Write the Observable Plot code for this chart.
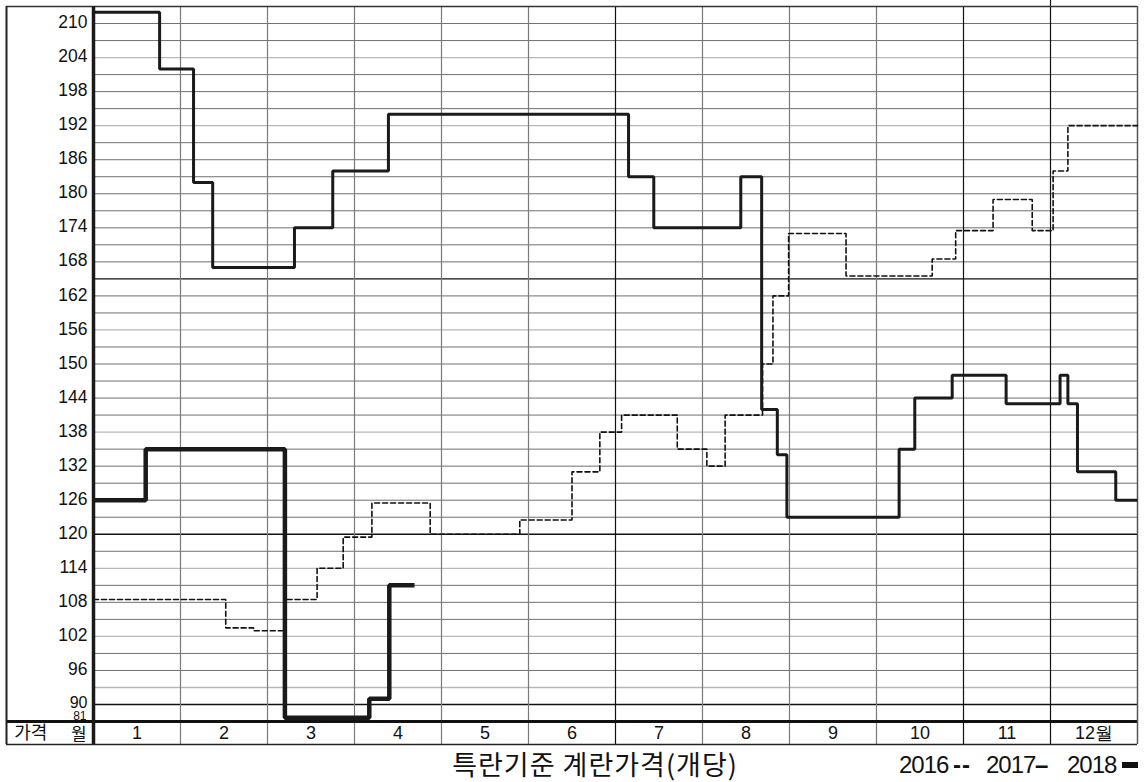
<!DOCTYPE html>
<html><head><meta charset="utf-8">
<script src="https://cdn.jsdelivr.net/npm/d3@7"></script>
<script src="https://cdn.jsdelivr.net/npm/@observablehq/plot@0.6"></script>
<style>
body{margin:0;background:#fff;}
#wrap{position:relative;width:1144px;height:782px;overflow:hidden;}
#foot{position:relative;height:34px;}
#title{position:absolute;left:595px;top:0px;transform:translateX(-50%);font-family:"Noto Sans CJK KR","Noto Sans";font-size:27px;letter-spacing:1px;white-space:nowrap;color:#111;line-height:32px}
.lg{position:absolute;top:3px;font-family:"Liberation Sans",sans-serif;font-size:24px;letter-spacing:-1px;white-space:nowrap;color:#111;line-height:28px}
.bar{position:absolute;left:1122px;top:14px;width:16px;height:6px;background:#111}
</style></head><body>
<div id="wrap"><div id="chart"></div><div id="foot"><div id="title">특란기준 계란가격(개당)</div>
<span class="lg" style="left:899px">2016</span><span class="lg" style="left:953px;letter-spacing:1px;font-weight:bold">--</span>
<span class="lg" style="left:986px">2017</span><span class="lg" style="left:1035px;letter-spacing:0;font-weight:bold">–</span>
<span class="lg" style="left:1067px">2018</span><span class="bar"></span></div></div>
<script>
// month column labels
const months = ["1","2","3","4","5","6","7","8","9","10","11","12월"];
// y tick labels
const yTicks = [96,102,108,114,120,126,132,138,144,150,156,162,168,174,180,186,192,198,204,210];
const lowTick = 90;
const bottomLabel = "81";
// series (x = position in months from start of January, y = price)
const s2016x = [0,1.52,1.84,2.2,2.57,2.87,3.2,3.87,4.9,5.5,5.82,6.07,6.71,7.05,7.26,7.69,7.81,7.99,8.65,9.64,9.91,10.34,10.79,11.03,11.2,12];
const s2016y = [108.5,103.5,103,108.5,114,119.5,125.5,120,122.5,131,138,141,135,132,141,150,162,173,165.5,168.5,173.5,179,173.5,184,192,192];
const s2017x = [0,0.76,1.15,1.37,2.31,2.75,3.39,6.15,6.44,7.44,7.68,7.86,7.97,9.26,9.44,9.87,10.49,11.11,11.2,11.31,11.75,12];
const s2017y = [212,202,182,167,174,184,194,183,174,183,142,134,123,135,144,148,143,148,143,131,126,126];
const s2018x = [0,0.6,2.2,3.17,3.4,3.69];
const s2018y = [126,135,83,91,111,111];

const toRows = (xs, ys) => xs.map((x, i) => ({x, y: ys[i]}));
const d2016 = toRows(s2016x, s2016y);
const d2017 = toRows(s2017x, s2017y);
const d2018 = toRows(s2018x, s2018y);

const gridLevels = d3.range(93, 211, 3);
const lightLevels = [204,192,156,138,114,102,93];
const darkLevels = [165,120,90];
const monthEdges = d3.range(1, 12);
const darkEdges = [6,10,11];

const plot = Plot.plot({
  width: 1144,
  height: 748,
  marginLeft: 6,
  marginRight: 7,
  marginTop: 6,
  marginBottom: 4,
  x: {type: "linear", domain: [-1, 12], axis: null},
  y: {type: "linear", domain: [69, 81, 90, 213], range: [744, 721, 704, 6], axis: null},
  style: {fontFamily: "'Liberation Sans', Arial, sans-serif", background: "#fff"},
  marks: [
    // horizontal grid
    Plot.ruleY(gridLevels.filter(d => !lightLevels.includes(d) && !darkLevels.includes(d)), {x1: 0, x2: 12, stroke: "#707070", strokeWidth: 1}),
    Plot.ruleY(lightLevels, {x1: 0, x2: 12, stroke: "#b8b8b8", strokeWidth: 1.3}),
    Plot.ruleY(darkLevels, {x1: 0, x2: 12, stroke: "#111", strokeWidth: 1.3}),
    // vertical month edges
    Plot.ruleX(monthEdges.filter(d => !darkEdges.includes(d)), {y1: 69, y2: 213, stroke: "#7a7a7a", strokeWidth: 1.2}),
    Plot.ruleX(darkEdges, {y1: 69, y2: 213, stroke: "#111", strokeWidth: 1.2}),
    Plot.ruleX([11], {y1: 213, y2: 214.2, stroke: "#111", strokeWidth: 1.2}),
    // frame
    Plot.ruleY([213], {x1: -1, x2: 12, stroke: "#333", strokeWidth: 1.5}),
    Plot.ruleY([69], {x1: -1, x2: 12, stroke: "#222", strokeWidth: 1.5}),
    Plot.ruleY([81], {x1: -1, x2: 12, stroke: "#111", strokeWidth: 3}),
    Plot.ruleX([-1], {y1: 69, y2: 213, stroke: "#222", strokeWidth: 2}),
    Plot.ruleX([12], {y1: 69, y2: 213, stroke: "#555", strokeWidth: 1.5}),
    // series
    Plot.line(d2016, {x: "x", y: "y", curve: "step-after", stroke: "#111", strokeWidth: 1.6, strokeDasharray: "5,3", strokeLinejoin: "miter"}),
    Plot.line(d2017, {x: "x", y: "y", curve: "step-after", stroke: "#1a1a1a", strokeWidth: 3, strokeLinejoin: "miter", strokeLinecap: "butt"}),
    Plot.line(d2018, {x: "x", y: "y", curve: "step-after", stroke: "#1a1a1a", strokeWidth: 4.5, strokeLinejoin: "miter", strokeLinecap: "butt"}),
    // left axis line
    Plot.ruleX([0], {y1: 69, y2: 213, stroke: "#1a1a1a", strokeWidth: 3.5}),
    // y tick labels
    Plot.text(yTicks, {x: () => 0, y: d => d, text: d => String(d), dx: -6, dy: -1, textAnchor: "end", fontSize: 17.5, fill: "#111", style: "letter-spacing:1.8px"}),
    Plot.text([lowTick], {x: () => 0, y: d => d, text: d => String(d), dx: -6, dy: -2, textAnchor: "end", fontSize: 16, fill: "#111", style: "letter-spacing:1.8px"}),
    Plot.text([bottomLabel], {x: () => 0, y: () => 81, text: d => d, dx: -7, dy: -2, textAnchor: "end", lineAnchor: "bottom", fontSize: 12, fill: "#111", style: "letter-spacing:1.5px"}),
    // month labels
    Plot.text(months, {x: (d, i) => i + 0.5, y: () => 75, text: d => d, fontSize: 18, fill: "#111", style: "letter-spacing:1.5px"}),
    Plot.text(["가격"], {x: () => -0.72, y: () => 75, text: d => d, fontSize: 18, fill: "#111", fontFamily: "Noto Sans CJK KR", style: "letter-spacing:3px"}),
    Plot.text(["월"], {x: () => -0.17, y: () => 75, dy: 2, text: d => d, fontSize: 17, fill: "#111", fontFamily: "Noto Sans CJK KR"})
  ]
});
document.getElementById("chart").appendChild(plot);
</script>
</body></html>
